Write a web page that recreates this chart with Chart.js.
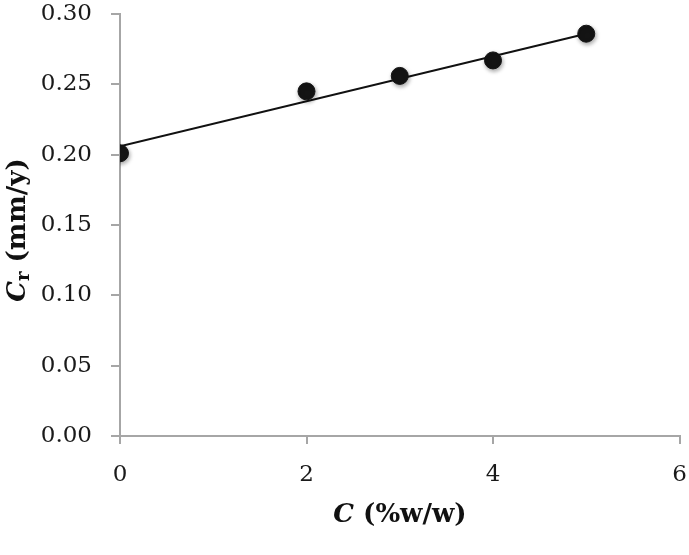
<!DOCTYPE html>
<html>
<head>
<meta charset="utf-8">
<script src="https://cdn.jsdelivr.net/npm/chart.js@4"></script>
<style>
  html, body { margin: 0; padding: 0; background: #fff; }
  #wrap { width: 689px; height: 555px; }
</style>
</head>
<body>
<div id="wrap"><canvas id="myChart" width="689" height="555"></canvas></div>
<script>
'use strict';

const concentration = [0, 2, 3, 4, 5];
const corrosionRate = [0.201, 0.245, 0.256, 0.267, 0.286];
const trendX = [0, 5];
const trendY = [0.206, 0.286];
const xTicks = [0, 2, 4, 6];

const FONT = "'DejaVu Serif', 'Liberation Serif', serif";
const axisGrey = '#a6a6a6';

// axis titles with italic C and subscript r
const titles = {
  id: 'titles',
  afterDraw(chart) {
    const ctx = chart.ctx;
    const drawParts = (parts, cx, cy) => {
      let total = 0;
      parts.forEach(p => {
        ctx.font = (p.italic ? 'italic ' : '') + 'bold ' + p.size + 'px ' + FONT;
        p.w = ctx.measureText(p.text).width;
        total += p.w;
      });
      let x = cx - total / 2;
      parts.forEach(p => {
        ctx.font = (p.italic ? 'italic ' : '') + 'bold ' + p.size + 'px ' + FONT;
        ctx.fillText(p.text, x, cy + (p.dy || 0));
        x += p.w;
      });
    };
    ctx.save();
    ctx.fillStyle = '#111';
    ctx.textBaseline = 'middle';
    ctx.textAlign = 'left';
    drawParts([
      { text: 'C', italic: true, size: 26 },
      { text: ' (%w/w)', size: 26 },
    ], 400, 515);
    ctx.translate(18, 230);
    ctx.rotate(-Math.PI / 2);
    drawParts([
      { text: 'C', italic: true, size: 26 },
      { text: 'r', size: 18, dy: 6 },
      { text: ' (mm/y)', size: 26 },
    ], 0, 0);
    ctx.restore();
  },
};

// soft shadow under the markers
const markerShadow = {
  id: 'markerShadow',
  beforeDatasetDraw(chart, args) {
    if (args.index !== 0) return;
    const ctx = chart.ctx;
    ctx.save();
    ctx.shadowColor = 'rgba(0,0,0,0.35)';
    ctx.shadowBlur = 4;
    ctx.shadowOffsetX = 1;
    ctx.shadowOffsetY = 2;
  },
  afterDatasetDraw(chart, args) {
    if (args.index !== 0) return;
    chart.ctx.restore();
  },
};

const config = {
  type: 'scatter',
  data: {
    datasets: [
      {
        label: 'Cr',
        data: concentration.map((x, i) => ({ x: x, y: corrosionRate[i] })),
        backgroundColor: '#141414',
        borderColor: '#141414',
        pointRadius: 8.5,
        pointHoverRadius: 8.5,
        order: 0,
      },
      {
        label: 'trend',
        data: trendX.map((x, i) => ({ x: x, y: trendY[i] })),
        showLine: true,
        borderColor: '#111',
        borderWidth: 2,
        pointRadius: 0,
        order: 1,
      },
    ],
  },
  options: {
    responsive: false,
    animation: false,
    layout: { padding: { top: 14, right: 8, left: 0, bottom: 0 } },
    plugins: {
      legend: { display: false },
      tooltip: { enabled: false },
    },
    scales: {
      x: {
        type: 'linear',
        min: 0,
        max: 6,
        afterBuildTicks(scale) {
          scale.ticks = xTicks.map(v => ({ value: v }));
        },
        afterFit(scale) {
          scale.height = 119;
          scale.paddingLeft = 0;
          scale.paddingRight = 0;
        },
        border: { color: axisGrey, width: 2 },
        grid: { drawOnChartArea: false, color: axisGrey, tickLength: 8, lineWidth: 2 },
        ticks: { color: '#1a1a1a', font: { family: FONT, size: 23 }, padding: 17, maxRotation: 0 },
      },
      y: {
        min: 0,
        max: 0.3,
        afterFit(scale) {
          scale.width = 120;
          scale.paddingTop = 0;
          scale.paddingBottom = 0;
        },
        border: { color: axisGrey, width: 2 },
        grid: { drawOnChartArea: false, color: axisGrey, tickLength: 9, lineWidth: 2 },
        ticks: {
          stepSize: 0.05,
          color: '#1a1a1a',
          font: { family: FONT, size: 23 },
          padding: 19,
          callback: v => v.toFixed(2),
        },
      },
    },
  },
  plugins: [titles, markerShadow],
};

const myChart = new Chart(document.getElementById('myChart'), config);
</script>
</body>
</html>
